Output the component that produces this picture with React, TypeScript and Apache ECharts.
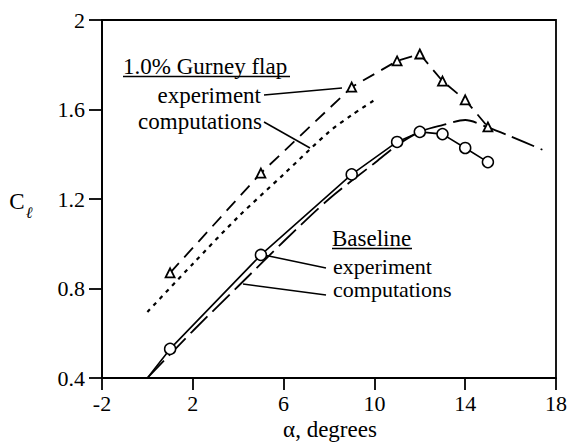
import React, { useEffect, useRef } from 'react';
import * as echarts from 'echarts';

const xTicks = [-2, 2, 6, 10, 14, 18];
const xTickLabels = ['-2', '2', '6', '10', '14', '18'];
const yTicks = [0.4, 0.8, 1.2, 1.6, 2];
const yTickLabels = ['0.4', '0.8', '1.2', '1.6', '2'];

const baseExpAlpha = [0, 1, 5, 9, 11, 12, 13, 14, 15];
const baseExpCl = [0.4, 0.53, 0.95, 1.31, 1.455, 1.5, 1.49, 1.428, 1.365];

const baseCompAlpha = [0, 2, 4, 6, 8, 10, 11, 12, 13, 14, 15, 16, 17.4];
const baseCompCl = [0.4, 0.61, 0.81, 1.01, 1.2, 1.36, 1.44, 1.5, 1.53, 1.553, 1.52, 1.48, 1.42];

const gurneyExpAlpha = [1, 5, 9, 11, 12, 13, 14, 15];
const gurneyExpCl = [0.87, 1.316, 1.7, 1.817, 1.848, 1.727, 1.643, 1.522];

const gurneyCompAlpha = [0, 2, 4, 6, 8, 9, 10];
const gurneyCompCl = [0.695, 0.91, 1.12, 1.31, 1.5, 1.575, 1.642];

const FONT = 'Liberation Serif';

const pairs = (xs: number[], ys: number[]) => xs.map((x, i) => [x, ys[i]]);

export default function App() {
  const ref = useRef<HTMLDivElement>(null);

  useEffect(() => {
    if (!ref.current) return;
    const chart = echarts.init(ref.current, null, { renderer: 'svg' });

    const txt = (text: string, x: number, y: number, align: string, size = 23) => ({
      type: 'text',
      x,
      y,
      style: {
        text,
        fontSize: size,
        fontFamily: FONT,
        fill: '#000',
        align,
        verticalAlign: 'middle',
      },
    });
    const ln = (x1: number, y1: number, x2: number, y2: number, w = 1.5) => ({
      type: 'line',
      shape: { x1, y1, x2, y2 },
      style: { stroke: '#000', lineWidth: w },
    });

    const baseExpData = pairs(baseExpAlpha, baseExpCl).map((p, i) =>
      i === 0 ? { value: p, symbol: 'none' } : { value: p }
    );

    chart.setOption({
      animation: false,
      textStyle: { fontFamily: FONT },
      grid: {
        left: 102,
        right: 13,
        top: 20,
        bottom: 64,
        show: true,
        borderColor: '#000',
        borderWidth: 1.8,
      },
      xAxis: {
        type: 'value',
        min: -2,
        max: 18,
        axisLine: { show: true, onZero: false, lineStyle: { color: '#000', width: 1.8 } },
        axisTick: { show: true, customValues: xTicks, length: 12, inside: false, lineStyle: { color: '#000', width: 1.8 } },
        axisLabel: {
          customValues: xTicks,
          margin: 14,
          color: '#000',
          fontSize: 22,
          fontFamily: FONT,
          formatter: (v: number) => {
            const i = xTicks.indexOf(v);
            return i >= 0 ? xTickLabels[i] : String(v);
          },
        },
        splitLine: { show: false },
      },
      yAxis: {
        type: 'value',
        min: 0.4,
        max: 2,
        axisLine: { show: true, onZero: false, lineStyle: { color: '#000', width: 1.8 } },
        axisTick: { show: true, customValues: yTicks, length: 13, inside: false, lineStyle: { color: '#000', width: 1.8 } },
        axisLabel: {
          customValues: yTicks,
          margin: 17,
          color: '#000',
          fontSize: 22,
          fontFamily: FONT,
          formatter: (v: number) => {
            const i = yTicks.findIndex((t) => Math.abs(t - v) < 1e-9);
            return i >= 0 ? yTickLabels[i] : String(v);
          },
        },
        splitLine: { show: false },
      },
      series: [
        {
          name: 'Gurney computations',
          type: 'line',
          data: pairs(gurneyCompAlpha, gurneyCompCl),
          symbol: 'none',
          smooth: 0.3,
          lineStyle: { color: '#000', width: 2.2, type: [4, 5] },
          z: 2,
        },
        {
          name: 'Baseline computations',
          type: 'line',
          data: pairs(baseCompAlpha, baseCompCl),
          symbol: 'none',
          smooth: 0.3,
          lineStyle: { color: '#000', width: 1.8, type: [24, 7] },
          z: 2,
        },
        {
          name: 'Gurney experiment',
          type: 'line',
          data: pairs(gurneyExpAlpha, gurneyExpCl),
          symbol: 'triangle',
          symbolSize: 9,
          itemStyle: { color: '#fff', borderColor: '#000', borderWidth: 1.8 },
          lineStyle: { color: '#000', width: 1.8, type: [13, 8] },
          z: 3,
        },
        {
          name: 'Baseline experiment',
          type: 'line',
          data: baseExpData,
          symbol: 'circle',
          symbolSize: 11,
          showAllSymbol: true,
          itemStyle: { color: '#fff', borderColor: '#000', borderWidth: 1.5 },
          lineStyle: { color: '#000', width: 1.6, type: 'solid' },
          z: 4,
        },
      ],
      graphic: [
        // y-axis title
        txt('C', 17, 201, 'center', 23),
        {
          type: 'text',
          x: 29,
          y: 212,
          style: { text: 'ℓ', fontSize: 16, fontStyle: 'italic', fontFamily: FONT, fill: '#000', align: 'center', verticalAlign: 'middle' },
        },
        // x-axis title
        txt('α, degrees', 330, 429, 'center', 23),
        // Gurney annotation
        txt('1.0% Gurney flap', 123, 66, 'left'),
        ln(123, 76.5, 290, 76.5, 1.3),
        txt('experiment', 261, 95, 'right'),
        txt('computations', 262, 121, 'right'),
        ln(264, 95, 342, 88),
        ln(264, 122, 310, 148),
        // Baseline annotation
        txt('Baseline', 332, 238, 'left'),
        ln(332, 248.5, 412, 248.5, 1.3),
        txt('experiment', 333, 266, 'left', 22),
        txt('computations', 333, 289, 'left', 22),
        ln(326, 268, 264, 255),
        ln(326, 295, 243, 284),
      ],
    });

    return () => chart.dispose();
  }, []);

  return (
    <>
      <style>{'#root svg text { font-family: "Liberation Serif", serif !important; }'}</style>
      <div
        ref={ref}
        style={{
          position: 'fixed',
          left: 0,
          top: 0,
          width: 570,
          height: 442,
          background: '#fff',
          fontFamily: '"Liberation Serif", serif',
        }}
      />
    </>
  );
}
